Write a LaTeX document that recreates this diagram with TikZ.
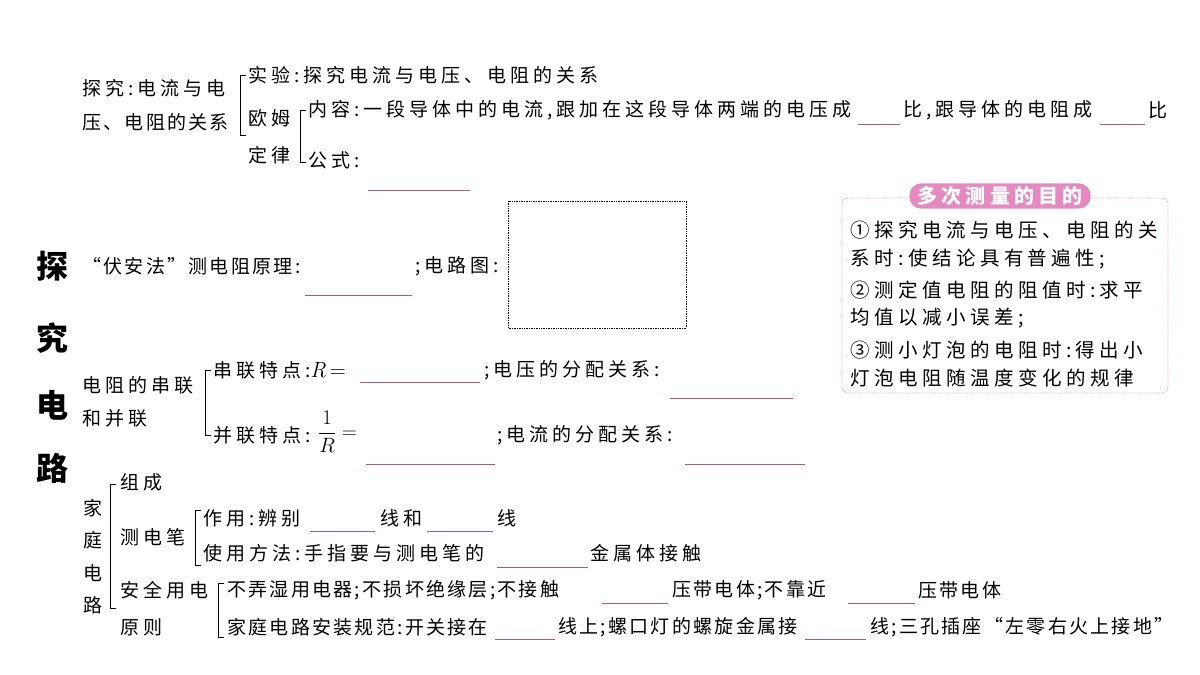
\documentclass[tikz,border=0pt]{standalone}
\usepackage{fontspec}
\setmainfont{Noto Sans CJK SC}[LetterSpace=21]
\newfontfamily\boxfont{Noto Sans CJK SC}[LetterSpace=23]
\newfontfamily\tightfont{Noto Sans CJK SC}[LetterSpace=12]
\newfontfamily\plainfont{Noto Sans CJK SC}
\newfontfamily\lmr{Latin Modern Roman}
\definecolor{blank}{HTML}{B05A7E}
\definecolor{pinkbox}{HTML}{E48AC0}
\begin{document}
\begin{tikzpicture}[x=1pt,y=-1pt,
  t/.style={anchor=west,inner sep=0pt,font=\fontsize{19}{21}\selectfont},
  tt/.style={anchor=west,inner sep=0pt,font=\tightfont\fontsize{19}{21}\selectfont},
  bt/.style={anchor=center,inner sep=0pt,font=\plainfont\fontsize{32}{34}\selectfont\bfseries},
  vt/.style={anchor=center,inner sep=0pt,font=\plainfont\fontsize{19}{20}\selectfont},
  bx/.style={anchor=west,inner sep=0pt,font=\boxfont\fontsize{19.5}{21}\selectfont},
  bl/.style={draw=blank,line width=0.9pt},
  br/.style={draw=black,line width=0.8pt}]
\useasboundingbox (0,0) rectangle (1200,675);
\fill[white] (0,0) rectangle (1200,675);
% top section
\node[t] (a1) at (82,88) {探究:电流与电};
\node[tt] (a2) at (82,122) {压、电阻的关系};
\draw[br] (246,75)--(240,75)--(240,135)--(246,135);
\node[t] (a3) at (248,75) {实验:探究电流与电压、电阻的关系};
\node[t] (a4) at (248,118) {欧姆};
\node[t] (a5) at (248,155) {定律};
\draw[br] (306,110)--(300,110)--(300,162)--(306,162);
\node[t] (a6) at (308,110) {内容:一段导体中的电流,跟加在这段导体两端的电压成};
\draw[bl] (858,124)--(900,124);
\node[t] (a7) at (903,110) {比,跟导体的电阻成};
\draw[bl] (1100,124)--(1145,124);
\node[t] (a8) at (1148,110) {比};
\node[t] (a9) at (308,160) {公式:};
\draw[bl] (368,190)--(470,190);
% big title
\node[bt] (b1) at (52,266) {探};
\node[bt] (b2) at (52,338) {究};
\node[bt] (b3) at (52,405) {电};
\node[bt] (b4) at (52,468) {路};
% fu an fa
\node[tt] (c1) at (82,266) {“伏安法”测电阻原理:};
\draw[bl] (305,295)--(412,295);
\node[t] (c2) at (415,266) {;电路图:};
\draw[black,densely dotted,line width=0.7pt] (508,201) rectangle (686,328);
% box
\draw[pinkbox!80,densely dotted,line width=0.9pt,rounded corners=6pt] (842,198) rectangle (1168,393);
\node[fill=pinkbox,text=white,rounded corners=12pt,inner xsep=8pt,inner ysep=3pt,font=\fontsize{20}{22}\selectfont\bfseries] (d0) at (1000,196) {多次测量的目的};
\node[bx] (d1) at (850,230) {①探究电流与电压、电阻的关};
\node[bx] (d2) at (850,259) {系时:使结论具有普遍性;};
\node[bx] (d3) at (850,290) {②测定值电阻的阻值时:求平};
\node[bx] (d4) at (850,318) {均值以减小误差;};
\node[bx] (d5) at (850,350) {③测小灯泡的电阻时:得出小};
\node[bx] (d6) at (850,378) {灯泡电阻随温度变化的规律};
% series/parallel
\node[t] (e1) at (82,385) {电阻的串联};
\node[t] (e2) at (82,418) {和并联};
\draw[br] (211,370)--(205,370)--(205,435)--(211,435);
\node[t] (e3) at (213,370) {串联特点:{\lmr\fontsize{22}{24}\selectfont\itshape R\upshape\,=}};
\draw[bl] (360,382)--(480,382);
\node[t] (e4) at (484,370) {;电压的分配关系:};
\draw[bl] (670,398)--(793,398);
\node[t] (e5) at (213,435) {并联特点:};
\node[anchor=west,inner sep=0pt,font=\fontsize{22}{24}\selectfont] (e6) at (318,432) {$\displaystyle\frac{1}{R}=$};
\draw[bl] (366,464)--(495,464);
\node[t] (e7) at (497,435) {;电流的分配关系:};
\draw[bl] (685,464)--(805,464);
% household
\node[vt] (f1) at (93,508) {家};
\node[vt] (f2) at (93,540) {庭};
\node[vt] (f3) at (93,573) {电};
\node[vt] (f4) at (93,605) {路};
\draw[br] (116,484)--(110,484)--(110,608)--(116,608);
\node[t] (g1) at (120,482) {组成};
\node[t] (g2) at (120,537) {测电笔};
\draw[br] (201,510)--(195,510)--(195,565)--(201,565);
\node[t] (g3) at (203,518) {作用:辨别};
\draw[bl] (310,531)--(375,531);
\node[t] (g4) at (380,518) {线和};
\draw[bl] (427,531)--(493,531);
\node[t] (g5) at (497,518) {线};
\node[t] (g6) at (203,553) {使用方法:手指要与测电笔的};
\draw[bl] (497,567)--(588,567);
\node[t] (g7) at (590,553) {金属体接触};
\node[t] (h1) at (120,590) {安全用电};
\node[t] (h2) at (120,627) {原则};
\draw[br] (224,583)--(218,583)--(218,637)--(224,637);
\node[tt] (h3) at (227,590) {不弄湿用电器;不损坏绝缘层;不接触};
\draw[bl] (602,603)--(668,603);
\node[tt] (h4) at (672,590) {压带电体;不靠近};
\draw[bl] (848,603)--(915,603);
\node[tt] (h5) at (918,590) {压带电体};
\node[tt] (h6) at (227,627) {家庭电路安装规范:开关接在};
\draw[bl] (495,639)--(555,639);
\node[tt] (h7) at (558,627) {线上;螺口灯的螺旋金属接};
\draw[bl] (805,639)--(866,639);
\node[tt] (h8) at (870,627) {线;三孔插座“左零右火上接地”};
\end{tikzpicture}
\end{document}
